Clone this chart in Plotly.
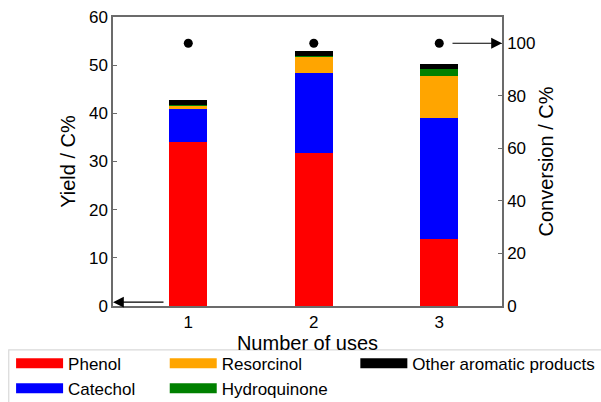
import plotly.graph_objects as go

uses = [1, 2, 3]
tick_labels = ["1", "2", "3"]
series_names = ["Phenol", "Catechol", "Resorcinol", "Hydroquinone", "Other aromatic products"]
phenol = [34.0, 31.7, 14.0]
catechol = [6.8, 16.6, 25.1]
resorcinol = [0.8, 3.5, 8.7]
hydroquinone = [0.1, 0.2, 1.4]
other = [1.0, 1.0, 1.0]
conversion = [100, 100, 100]

series_values = [phenol, catechol, resorcinol, hydroquinone, other]
colors = ["#ff0000", "#0000ff", "#ffa500", "#008000", "#000000"]
legend_ids = ["legend", "legend", "legend2", "legend2", "legend3"]

FONT = "Liberation Sans, Arial, sans-serif"
AX = "#6b6b6b"

fig = go.Figure()
for name, vals, col in zip(series_names, series_values, colors):
    fig.add_trace(go.Bar(x=uses, y=vals, name=name, marker=dict(color=col, line=dict(width=0)),
                         width=0.3, showlegend=False, yaxis="y"))

fig.add_trace(go.Scatter(x=uses, y=conversion, mode="markers", yaxis="y2",
                         marker=dict(color="black", size=9), showlegend=False))

# legend-only entries (wide swatches)
for name, col, lg in zip(series_names, colors, legend_ids):
    fig.add_trace(go.Scatter(x=[None], y=[None], mode="lines", name=name,
                             line=dict(color=col, width=12), legend=lg, showlegend=True))

legend_common = dict(orientation="v", bgcolor="rgba(0,0,0,0)", borderwidth=0,
                     font=dict(family=FONT, size=17, color="black"), traceorder="normal",
                     xanchor="left", yanchor="top", tracegroupgap=0, itemwidth=47)

fig.update_layout(
    width=601, height=402,
    margin=dict(l=113, r=99, t=17, b=96, autoexpand=False),
    paper_bgcolor="white", plot_bgcolor="white",
    barmode="stack",
    font=dict(family=FONT, size=17, color="black"),
    xaxis=dict(range=[0.4, 3.5], tickvals=uses, ticktext=tick_labels, showline=True,
               linecolor=AX, linewidth=1.5, mirror=True, ticks="", showgrid=False,
               zeroline=False, title=dict(text="Number of uses", standoff=0)),
    yaxis=dict(range=[0, 60], dtick=10, showline=True, linecolor=AX, linewidth=1.5,
               ticks="inside", ticklen=4, tickcolor=AX, showgrid=False, zeroline=False,
               title=dict(text="Yield / C%", standoff=8)),
    yaxis2=dict(range=[0, 110], tickvals=[0, 20, 40, 60, 80, 100], overlaying="y", side="right",
                showline=True, linecolor=AX, linewidth=1.5, ticks="inside", ticklen=4,
                tickcolor=AX, showgrid=False, zeroline=False,
                title=dict(text="Conversion / C%", standoff=4)),
    legend=dict(x=-0.262, y=-0.137, **legend_common),
    legend2=dict(x=0.133, y=-0.137, **legend_common),
    legend3=dict(x=0.623, y=-0.137, **legend_common),
    shapes=[dict(type="rect", xref="paper", yref="paper", x0=-0.268, x1=1.26, y0=-0.152, y1=-0.40,
                 line=dict(color="#d9d9d9", width=1.2), fillcolor="rgba(0,0,0,0)", layer="below")],
    annotations=[
        dict(x=0, y=0.8, xref="paper", yref="y", ax=52, ay=0, text="", showarrow=True,
             arrowhead=2, arrowsize=1.8, arrowwidth=1.2, arrowcolor="black"),
        dict(x=1, y=100, xref="paper", yref="y2", ax=-51, ay=0, text="", showarrow=True,
             arrowhead=2, arrowsize=1.8, arrowwidth=1.2, arrowcolor="black"),
    ],
)

fig.write_html("out.html")
